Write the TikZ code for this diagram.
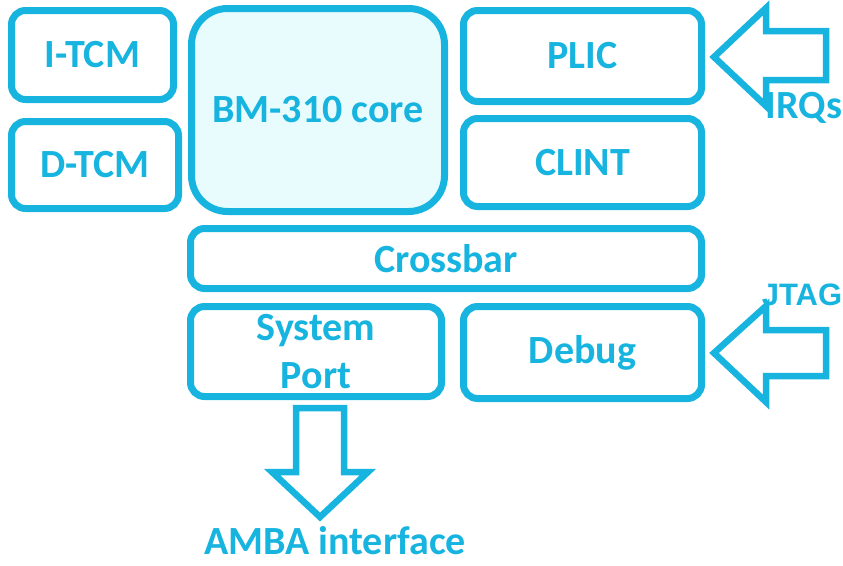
\documentclass[tikz,border=0pt]{standalone}
\usepackage{fontspec}
\setmainfont{Carlito}
\newfontfamily\arialfont{Liberation Sans}
\usepackage{tikz}
\usetikzlibrary{calc}

\definecolor{blockline}{HTML}{17B4DF}
\definecolor{corefill}{HTML}{E8FCFE}

\begin{document}
\begin{tikzpicture}[x=1pt, y=-1pt,
		blk/.style={draw=blockline, line width=7pt, rounded corners=14pt, fill=white,
			text=blockline, font=\fontsize{40}{48}\selectfont\bfseries, align=center,
			inner sep=0pt},
		bigarrow/.style={draw=blockline, line width=6.5pt, line join=miter, fill=white},
		lbl/.style={text=blockline, font=\fontsize{40}{48}\selectfont\bfseries, inner sep=0pt}]
			\useasboundingbox (0, 0) rectangle (843, 565);

			\node[blk, minimum width=162, minimum height=89](itcm) at (92.5, 55){I-TCM};
			\node[blk, minimum width=167, minimum height=87](dtcm) at (95, 165){D-TCM};
			\node[blk, fill=corefill, rounded corners=36pt, minimum width=253, minimum height=203](core) at (318, 110){BM-310 core};
			\node[blk, minimum width=238, minimum height=91](plic) at (582.5, 56){PLIC};
			\node[blk, minimum width=238, minimum height=88](clint) at (582.5, 162.5){CLINT};
			\node[blk, minimum width=511, minimum height=60](xbar) at (446, 258.5){Crossbar};
			\node[blk, minimum width=251, minimum height=90](sysport) at (316, 351.5){System\\Port};
			\node[blk, minimum width=238, minimum height=92](debug) at (582.5, 352.5){Debug};

			% block arrows
			\draw[bigarrow](714, 57)--(766, 8)--(766, 31)--(826, 31)--(826, 80)--(766, 80)--(766, 106)--cycle;
			\draw[bigarrow](714, 353)--(766, 306)--(766, 330)--(826, 330)--(826, 376)--(766, 376)--(766, 402)--cycle;
			\draw[bigarrow](296, 408)--(344, 408)--(344, 472)--(368, 472)--(320, 517)--(272, 472)--(296, 472)--cycle;

			\node[lbl](irqs) at (804, 108){IRQs};
			\node[lbl, font=\arialfont\bfseries\fontsize{31}{36}\selectfont](jtag) at (802, 295){JTAG};
			\node[lbl, anchor=base, text depth=0pt](amba) at (335, 554){AMBA interface};
		\end{tikzpicture}
\end{document}
